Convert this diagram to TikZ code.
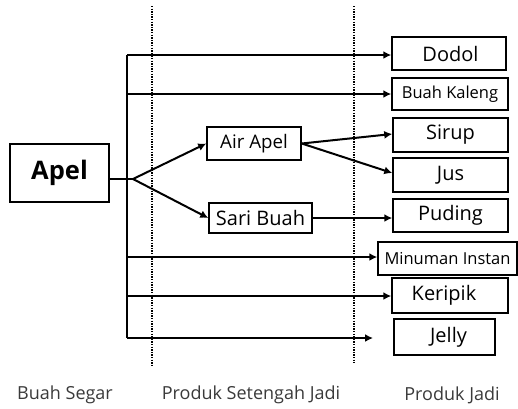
\documentclass[tikz,border=0pt]{standalone}
\usepackage{fontspec}
\setmainfont{Open Sans}
\usetikzlibrary{arrows.meta}
\definecolor{labgray}{HTML}{3A3A3A}
\begin{document}
\begin{tikzpicture}[x=1pt,y=-1pt,
  box/.style={draw,line width=1.5pt,inner sep=0pt,align=center,font=\fontsize{20}{22}\selectfont},
  arr/.style={line width=2pt,-{Latex[length=8pt,width=8pt]}},
  ln/.style={line width=2pt},
  dots/.style={line width=2pt,dash pattern=on 1.3pt off 1.3pt},
  lab/.style={font=\fontsize{18}{20}\selectfont,inner sep=0pt,text=labgray}]
\useasboundingbox (0,0) rectangle (518,408);
% dotted separators
\draw[dots] (152,6) -- (152,365);
\draw[dots] (354,6) -- (354,363);
% nodes
\node[box,minimum width=99pt,minimum height=58pt,font=\fontsize{25.5}{28}\bfseries] (apel) at (59.5,173) {Apel};
\node[box,minimum width=94pt,minimum height=33pt,font=\fontsize{18.7}{21}\selectfont] (air) at (254,143.5) {Air Apel};
\node[box,minimum width=103pt,minimum height=30pt] (sari) at (260.5,218) {Sari Buah};
\node[box,minimum width=114pt,minimum height=33pt] (dodol) at (449,53.5) {\hspace{3pt}Dodol};
\node[box,minimum width=116pt,minimum height=32pt,font=\fontsize{16.5}{19}\selectfont] (kaleng) at (450,94) {Buah Kaleng};
\node[box,minimum width=115pt,minimum height=34pt] (sirup) at (450.5,135) {Sirup};
\node[box,minimum width=115pt,minimum height=34pt] (jus) at (450.5,175) {Jus};
\node[box,minimum width=115pt,minimum height=33pt] (puding) at (450.5,215.5) {Puding};
\node[box,minimum width=139pt,minimum height=33pt,font=\fontsize{16.5}{19}\selectfont] (instan) at (447.5,258.5) {Minuman Instan};
\node[box,minimum width=116pt,minimum height=35pt] (keripik) at (450,295.5) {Keripik\hspace{12pt}};
\node[box,minimum width=101pt,minimum height=36pt] (jelly) at (444.5,337) {\hspace{8pt}Jelly};
% labels
\node[lab] (l1) at (65,395) {Buah Segar};
\node[lab] (l2) at (251,395) {Produk Setengah Jadi};
\node[lab] (l3) at (452,395) {Produk Jadi};
% trunk coordinates
\coordinate (t1) at (127,55);
\coordinate (t2) at (127,94);
\coordinate (t5) at (127,257);
\coordinate (t6) at (127,296);
\coordinate (t7) at (127,338);
\coordinate (br) at (133,179);
\coordinate (jt) at (373,338);
% trunk
\draw[ln,line join=miter] (t1) -- (t7);
\draw[ln] (apel.east |- br) -- (br);
% horizontal arrows
\draw[arr] (t1) -- (t1 -| dodol.west);
\draw[arr] (t2) -- (t2 -| kaleng.west);
\draw[arr] (t5) -- (t5 -| instan.west);
\draw[arr] (t6) -- (t6 -| keripik.west);
\draw[arr] (t7) -- (jt);
% branches
\draw[arr] (br) -- (air.west);
\draw[arr] (br) -- (sari.west);
\draw[arr] (air.east) -- ([yshift=1pt]sirup.west);
\draw[arr] (air.east) -- ([yshift=2pt]jus.west);
\draw[arr] (sari.east) -- (sari.east -| puding.west);
\end{tikzpicture}
\end{document}
